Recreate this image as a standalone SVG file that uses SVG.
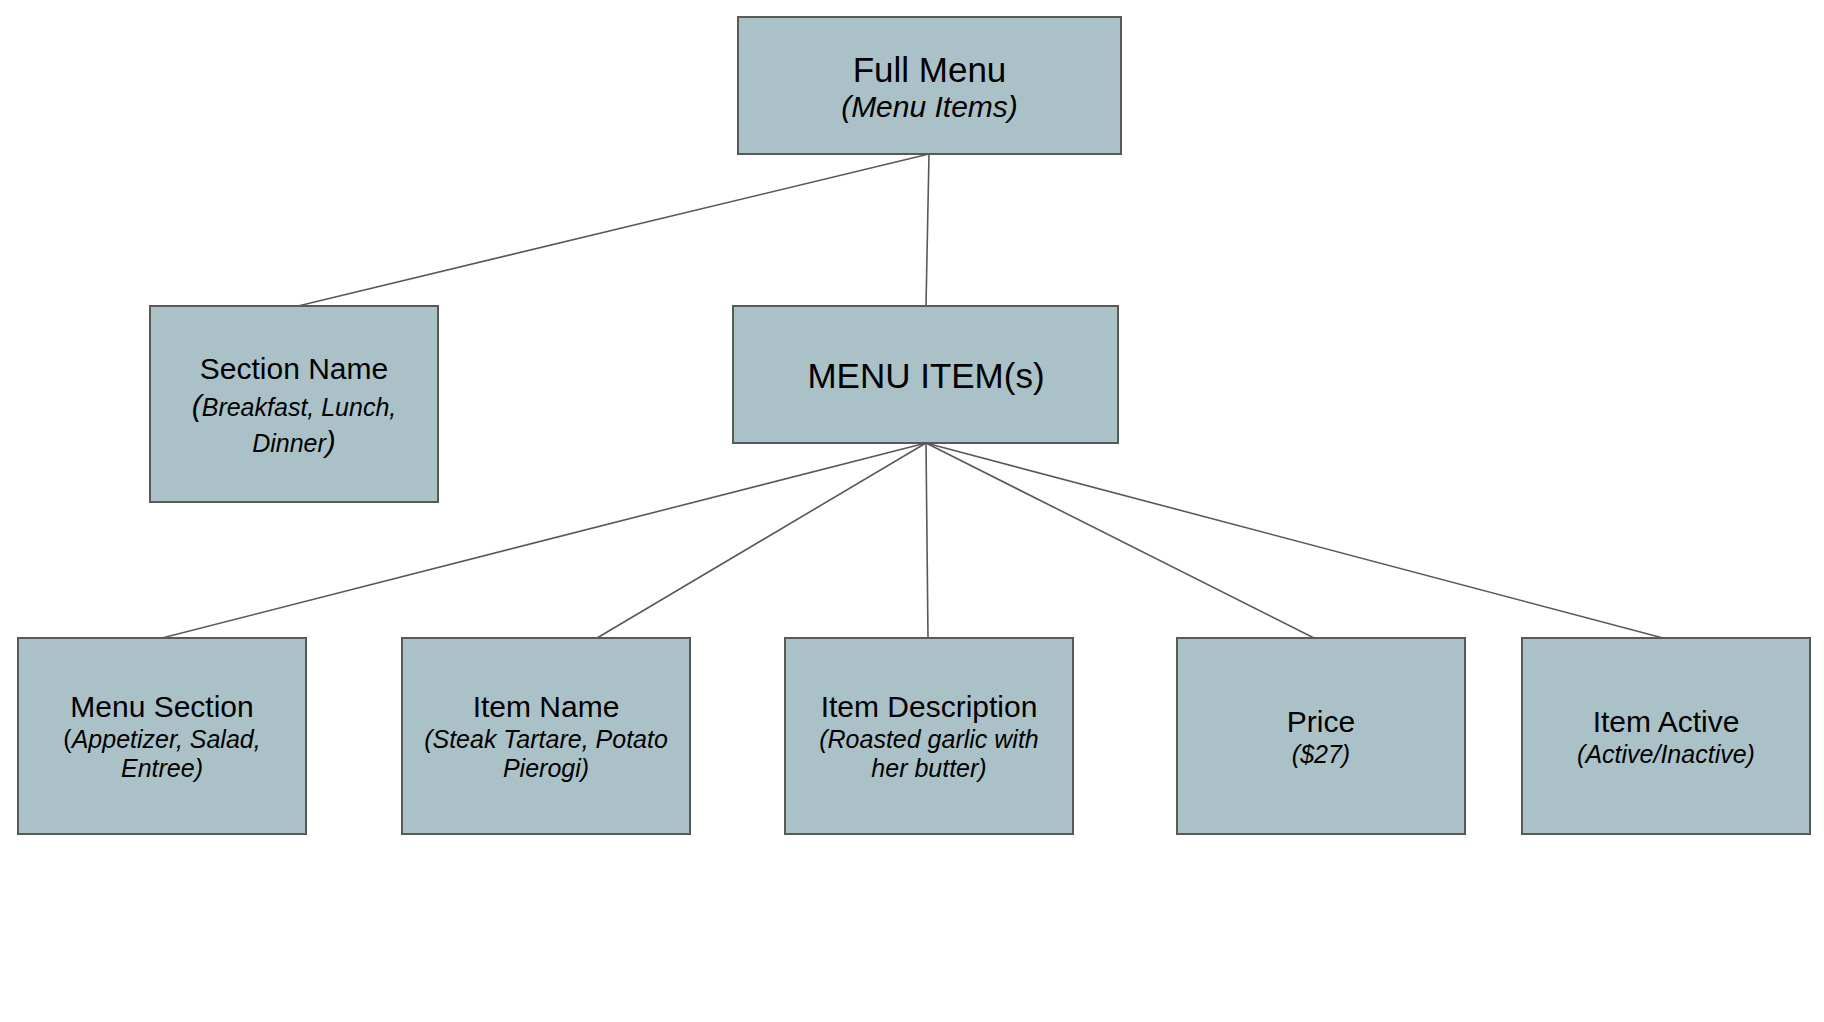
<svg xmlns="http://www.w3.org/2000/svg" width="1824" height="1022" viewBox="0 0 1824 1022">
<style>
.box{fill:#aac2c7;stroke:#595959;stroke-width:2}
.edge{stroke:#595959;stroke-width:1.6;fill:none}
text{font-family:"Liberation Sans",Arial,sans-serif;fill:#000;text-anchor:middle}
.t35{font-size:35px}
.t30{font-size:30px}
.s30{font-size:30px;font-style:italic}
.s25{font-size:25px;font-style:italic}
.up{font-style:normal}
</style>
<rect width="1824" height="1022" fill="#fff"/>
<g id="connectors">
<line class="edge" x1="929" y1="154" x2="298" y2="306"/>
<line class="edge" x1="929" y1="154" x2="926" y2="306"/>
<line class="edge" x1="926" y1="443" x2="162" y2="638"/>
<line class="edge" x1="926" y1="443" x2="597" y2="638"/>
<line class="edge" x1="926" y1="443" x2="928" y2="638"/>
<line class="edge" x1="926" y1="443" x2="1314" y2="638"/>
<line class="edge" x1="926" y1="443" x2="1663" y2="638"/>
</g>
<g id="full-menu">
<rect class="box" x="738" y="17" width="383" height="137"/>
<text class="t35" x="929.5" y="81.5">Full Menu</text>
<text class="s30" x="929.5" y="117">(Menu Items)</text>
</g>
<g id="section-name">
<rect class="box" x="150" y="306" width="288" height="196"/>
<text class="t30" x="294" y="378.5">Section Name</text>
<text class="s25" x="294" y="415.5"><tspan font-size="30">(</tspan>Breakfast, Lunch,</text>
<text class="s25" x="294" y="451.5">Dinner<tspan font-size="30">)</tspan></text>
</g>
<g id="menu-items">
<rect class="box" x="733" y="306" width="385" height="137"/>
<text class="t35" x="926" y="388">MENU ITEM(s)</text>
</g>
<g id="menu-section">
<rect class="box" x="18" y="638" width="288" height="196"/>
<text class="t30" x="162" y="717">Menu Section</text>
<text class="s25" x="162" y="748"><tspan class="up">(</tspan>Appetizer, Salad,</text>
<text class="s25" x="162" y="777">Entree)</text>
</g>
<g id="item-name">
<rect class="box" x="402" y="638" width="288" height="196"/>
<text class="t30" x="546" y="717">Item Name</text>
<text class="s25" x="546" y="748">(Steak Tartare, Potato</text>
<text class="s25" x="546" y="777">Pierogi)</text>
</g>
<g id="item-description">
<rect class="box" x="785" y="638" width="288" height="196"/>
<text class="t30" x="929" y="717">Item Description</text>
<text class="s25" x="929" y="748">(Roasted garlic with</text>
<text class="s25" x="929" y="777">her butter)</text>
</g>
<g id="price">
<rect class="box" x="1177" y="638" width="288" height="196"/>
<text class="t30" x="1321" y="732">Price</text>
<text class="s25" x="1321" y="763">($27)</text>
</g>
<g id="item-active">
<rect class="box" x="1522" y="638" width="288" height="196"/>
<text class="t30" x="1666" y="732">Item Active</text>
<text class="s25" x="1666" y="763">(Active/Inactive)</text>
</g>
</svg>
